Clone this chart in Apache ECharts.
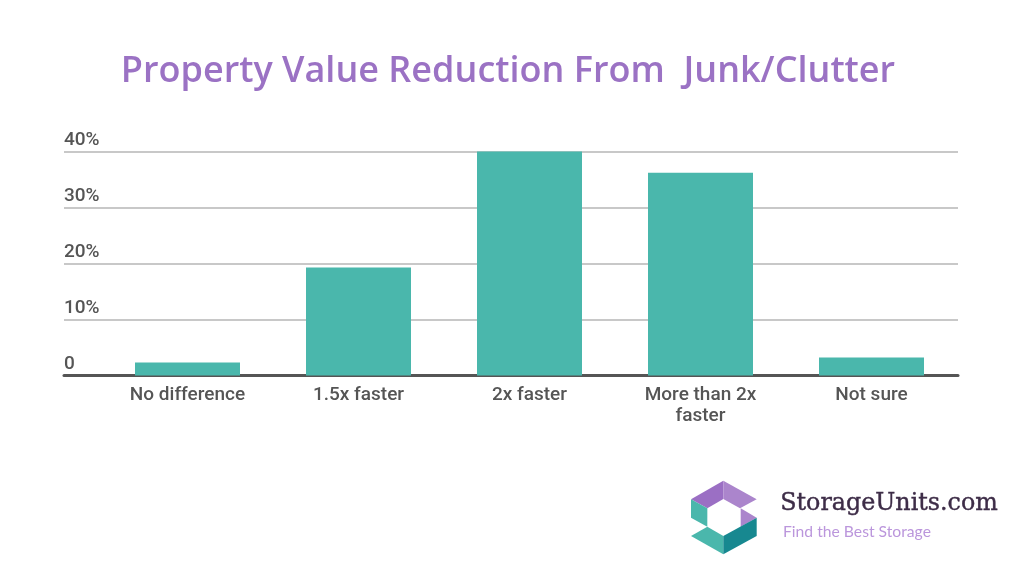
<!DOCTYPE html>
<html>
<head>
    <meta charset="utf-8">
    <title>Property Value Reduction From Junk/Clutter</title>
    <script src="https://cdn.jsdelivr.net/npm/echarts@6/dist/echarts.min.js"></script>
    <style>
        html, body { margin: 0; padding: 0; background: #fff; }
        #chart { width: 1024px; height: 584px; }
    </style>
</head>
<body>
<div id="chart"></div>
<script>
var categories = ['No difference', '1.5x faster', '2x faster', 'More than 2x\nfaster', 'Not sure'];
var values = [2.3, 19.3, 40, 36.2, 3.2];
var yTicks = { min: 0, max: 40, interval: 10 };

var labelColor = '#555555';

// logo pieces (x, y in px inside the page)
function logoPt(zx, zy) { return [670 + zx / 3, 470 + zy / 3]; }
function logoPiece(points, color) {
    return {
        type: 'polygon',
        shape: { points: points.map(function (p) { return logoPt(p[0], p[1]); }) },
        style: { fill: color }
    };
}

var myChart = echarts.init(document.getElementById('chart'), null, { renderer: 'canvas' });
myChart.setOption({
    animation: false,
    backgroundColor: '#ffffff',
    title: {
        text: 'Property Value Reduction From  Junk/Clutter',
        left: 503, top: 49, textAlign: 'center',
        textStyle: {
            fontFamily: 'Open Sans', fontWeight: 600, fontSize: 36, color: '#9b72c4'
        }
    },
    // first grid carries the long gridlines and the baseline, second one the bars
    grid: [
        { left: 64, right: 66, top: 151.5, height: 224 },
        { left: 102, width: 855, top: 151.5, height: 224 }
    ],
    xAxis: [
        {
            gridIndex: 0, type: 'category', data: [''],
            axisLine: { show: true, lineStyle: { color: '#555555', width: 3 } },
            axisTick: { show: false }, axisLabel: { show: false }
        },
        {
            gridIndex: 1, type: 'category', data: categories,
            axisLine: { show: false }, axisTick: { show: false },
            axisLabel: {
                interval: 0, margin: 9, lineHeight: 21,
                fontFamily: 'Roboto', fontWeight: 500, fontSize: 19, color: labelColor,
                verticalAlign: 'top'
            }
        }
    ],
    yAxis: [
        {
            gridIndex: 0, type: 'value',
            min: yTicks.min, max: yTicks.max, interval: yTicks.interval,
            axisLine: { show: false }, axisTick: { show: false },
            splitLine: { lineStyle: { color: '#c8c8c8', width: 2 } },
            axisLabel: {
                inside: true, margin: 0, align: 'left', verticalAlign: 'bottom',
                padding: [0, 0, 2, 0],
                fontFamily: 'Roboto', fontWeight: 500, fontSize: 19, color: labelColor,
                formatter: function (v) { return v === 0 ? '0' : v + '%'; }
            }
        },
        {
            gridIndex: 1, type: 'value',
            min: yTicks.min, max: yTicks.max, interval: yTicks.interval,
            axisLine: { show: false }, axisTick: { show: false },
            axisLabel: { show: false }, splitLine: { show: false }
        }
    ],
    series: [{
        type: 'bar',
        xAxisIndex: 1, yAxisIndex: 1,
        data: values,
        barWidth: 105,
        itemStyle: { color: '#4ab7ac' },
        z: 3
    }],
    graphic: [
        logoPiece([[63, 88], [160, 32], [160, 87], [112, 115]], '#9b6fc4'),
        logoPiece([[160, 32], [260, 88], [210, 115], [160, 87]], '#ab85cc'),
        logoPiece([[212, 115], [260, 143], [212, 170]], '#ab85cc'),
        logoPiece([[63, 88], [112, 115], [112, 170], [63, 143]], '#4ab7ac'),
        logoPiece([[63, 198], [112, 170], [160, 198], [160, 253]], '#4ab7ac'),
        logoPiece([[160, 198], [260, 143], [260, 198], [160, 253]], '#178890'),
        {
            type: 'text', left: 780, top: 492,
            style: {
                text: 'StorageUnits.com',
                font: '500 23.8px "DejaVu Serif"', fill: '#3d2c47',
                stroke: '#3d2c47', lineWidth: 0.4
            }
        },
        {
            type: 'text', left: 783, top: 524,
            style: {
                text: 'Find the Best Storage',
                font: '15.7px Lato', fill: '#bb96dc'
            }
        }
    ]
});
</script>
</body>
</html>
